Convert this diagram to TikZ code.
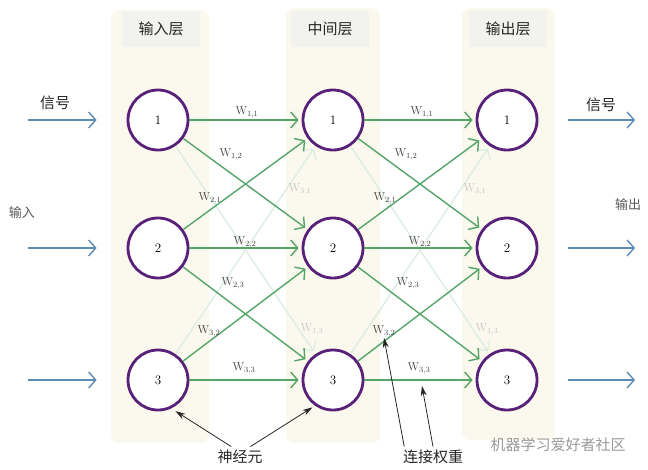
\documentclass[tikz,border=0pt]{standalone}
\usepackage{fontspec}
\newfontfamily\cjk{Noto Sans CJK SC}
\usetikzlibrary{arrows.meta, positioning, backgrounds}
\definecolor{neuroncol}{RGB}{88, 32, 120}
\definecolor{syncol}{RGB}{85, 165, 105}
\definecolor{sigcol}{RGB}{95, 140, 180}
\definecolor{layercol}{RGB}{251, 249, 237}
\definecolor{headcol}{RGB}{242, 242, 238}

\begin{document}
\begin{tikzpicture}[x=10pt, y=-10pt,
    neuron/.style={circle, draw=neuroncol, line width=2.8pt, fill=white,
                   minimum size=60pt, inner sep=0pt, font=\fontsize{13}{13}\selectfont},
    head/.style={rectangle, fill=headcol, minimum width=78pt, minimum height=36pt,
                 font=\cjk\fontsize{15}{15}\selectfont, text=black!85},
    syn/.style={-{Straight Barb[length=7pt,width=16pt]}, draw=syncol, line width=1.4pt,
                shorten >=3pt},
    faint/.style={syn, draw=syncol!20},
    sig/.style={-{Straight Barb[length=7pt,width=16pt]}, draw=sigcol, line width=1.4pt},
    wlbl/.style={font=\fontsize{11.5}{12}\selectfont, text=black!75, inner sep=1pt},
    flbl/.style={wlbl, text=black!22},
    note/.style={-{Stealth[length=10pt,width=6pt]}, draw=black!85, line width=0.8pt},
    cjklbl/.style={font=\cjk\fontsize{15}{15}\selectfont, text=black!85}]

    \useasboundingbox (0,0) rectangle (64.8,46.9);

    % layer bands
    \fill[layercol, rounded corners=8pt] (11.1,1.0) rectangle (20.9,44.3);
    \fill[layercol, rounded corners=8pt] (28.6,0.8) rectangle (38.0,44.3);
    \fill[layercol, rounded corners=8pt] (46.2,0.8) rectangle (55.5,44.0);
    \node[head] (hin)  at (16.1,2.9) {输入层};
    \node[head] (hmid) at (33.0,2.9) {中间层};
    \node[head] (hout) at (50.8,2.9) {输出层};

    % neurons
    \foreach \n [count=\k] in {12.0, 24.8, 38.0} {
        \node[neuron] (i\k) at (15.8,\n) {\k};
        \node[neuron] (h\k) at (33.3,\n) {\k};
        \node[neuron] (o\k) at (50.7,\n) {\k};
        \coordinate (in\k) at (2.8,\n);
        \coordinate (out\k) at (63.5,\n);
        \draw[sig, shorten >=30pt] (in\k) -- (i\k);
        \draw[sig, shorten <=30pt] (o\k) -- (out\k);
    }

    % connections
    \foreach \s/\t in {i/h, h/o} {
        \draw[faint] (\s1) -- (\t3);
        \draw[faint] (\s3) -- (\t1);
        \foreach \a/\b in {1/1, 1/2, 2/1, 2/2, 2/3, 3/2, 3/3}
            \draw[syn] (\s\a) -- (\t\b);
    }

    % weights
    \foreach \s/\dx in {i/0, h/17.5} {
        \begin{scope}[shift={(\dx,0)}]
            \node[wlbl] (w11\s) at (24.7,11.2) {$\mathrm{W}_{1,1}$};
            \node[wlbl] (w12\s) at (23.1,15.4) {$\mathrm{W}_{1,2}$};
            \node[wlbl] (w21\s) at (21.0,19.8) {$\mathrm{W}_{2,1}$};
            \node[flbl] (w31\s) at (30.0,18.9) {$\mathrm{W}_{3,1}$};
            \node[wlbl] (w22\s) at (24.5,24.2) {$\mathrm{W}_{2,2}$};
            \node[wlbl] (w23\s) at (23.3,28.3) {$\mathrm{W}_{2,3}$};
            \node[wlbl] (w32\s) at (20.9,33.1) {$\mathrm{W}_{3,2}$};
            \node[flbl] (w13\s) at (31.2,32.9) {$\mathrm{W}_{1,3}$};
            \node[wlbl] (w33\s) at (24.4,36.8) {$\mathrm{W}_{3,3}$};
        \end{scope}
    }

    % signals
    \node[cjklbl] (sigin)  at (5.5,10.3)  {信号};
    \node[cjklbl] (sigout) at (60.1,10.5) {信号};
    \node[cjklbl, font=\cjk\fontsize{13}{13}\selectfont, text=black!65] (inlbl)  at (2.2,21.3) {输入};
    \node[cjklbl, font=\cjk\fontsize{13}{13}\selectfont, text=black!65] (outlbl) at (62.8,20.5) {输出};

    % annotations
    \node[cjklbl] (neu) at (24.0,45.7) {神经元};
    \node[cjklbl] (wt)  at (43.3,45.7) {连接权重};
    \coordinate (wline) at (42.2,38.6);
    \draw[note, shorten >=5pt] (neu.130) -- (i3.-65);
    \draw[note, shorten >=3pt] (neu.45) -- (h3.-125);
    \draw[note] (wt.160) -- (w32h.south);
    \draw[note] (wt.north) -- (wline);

    \node[cjklbl, text=black!40] (wm) at (55.8,44.5) {机器学习爱好者社区};
\end{tikzpicture}
\end{document}
